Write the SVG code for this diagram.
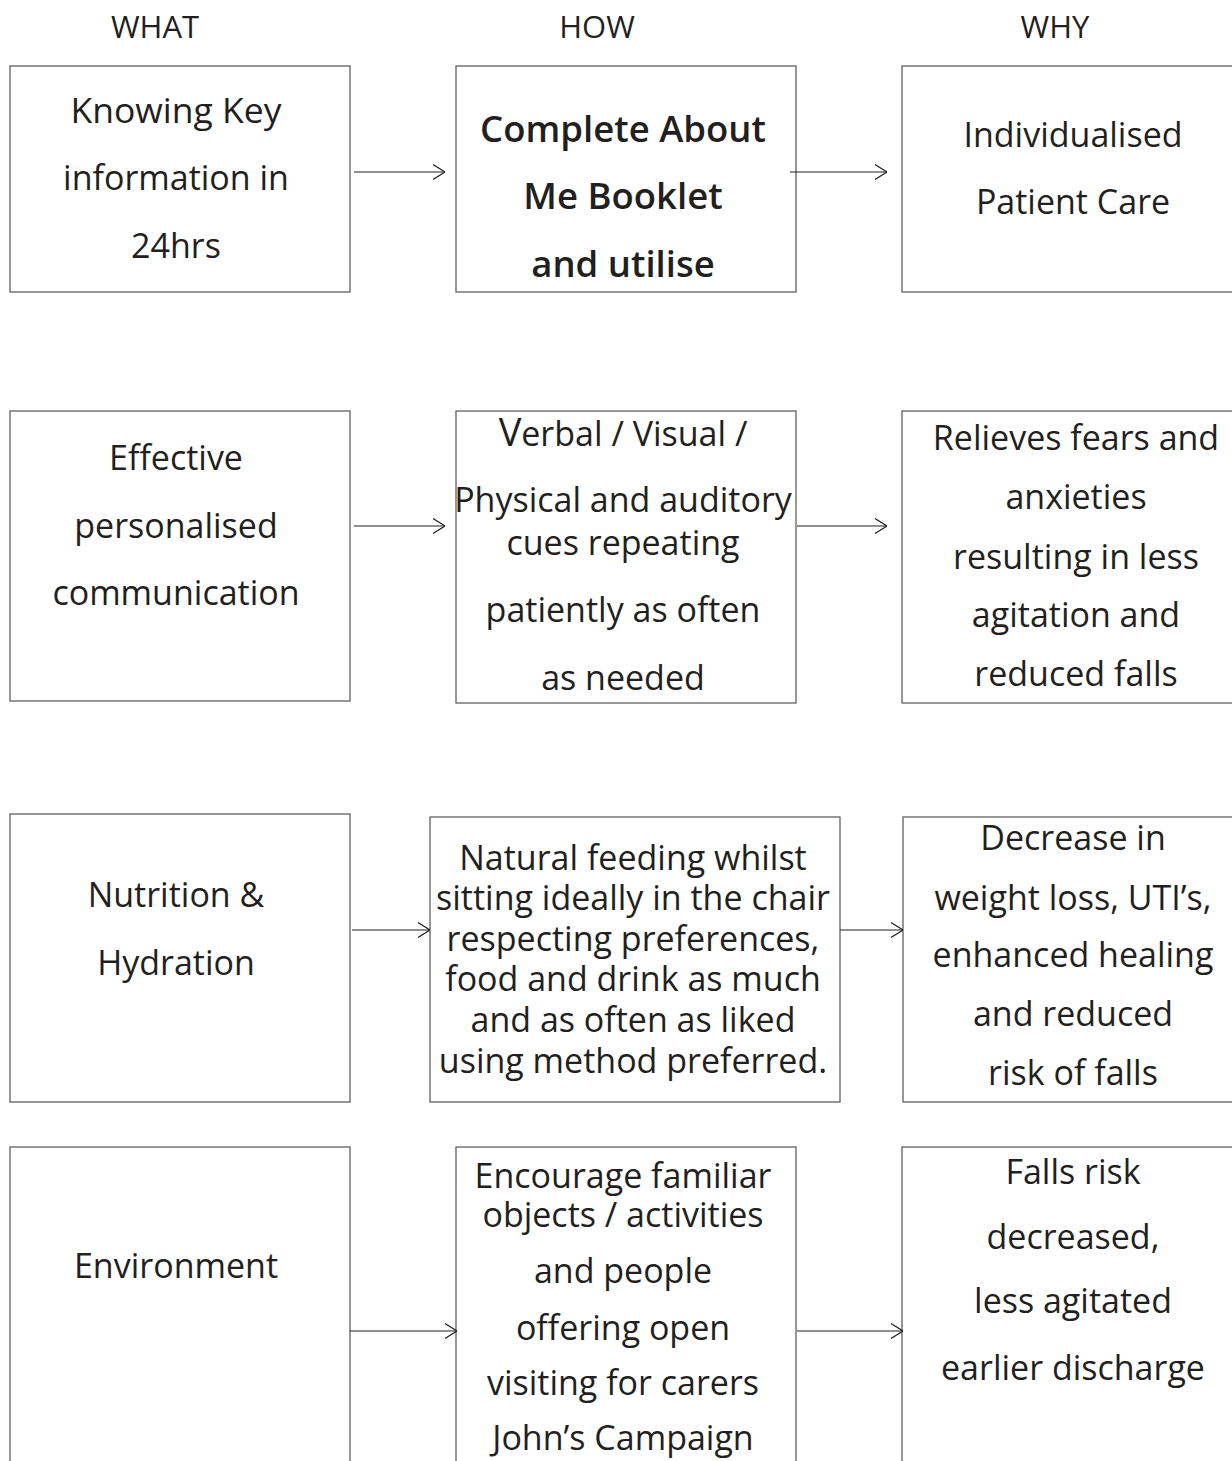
<svg xmlns="http://www.w3.org/2000/svg" width="1232" height="1461" viewBox="0 0 1232 1461">
<style>
  text { font-family: "Open Sans", "Noto Sans", sans-serif; fill: #231f20; text-anchor: middle; }
  .hd { font-size: 31px; }
  .t { font-size: 34px; }
  .k { font-size: 35.5px; }
  .s { font-size: 34px; }
  .b { font-size: 36.5px; font-weight: 600; }
  .box { fill: #ffffff; stroke: #606060; stroke-width: 1.3; }
  .conn line { stroke: #231f20; stroke-width: 1.2; marker-end: url(#arr); }
</style>
<defs>
  <marker id="arr" viewBox="0 0 12 16" refX="12" refY="8" markerWidth="12" markerHeight="16" markerUnits="userSpaceOnUse" orient="auto">
    <polyline points="0,0.5 12,8 0,15.5" fill="none" stroke="#231f20" stroke-width="1.2"/>
  </marker>
</defs>
<rect width="1232" height="1461" fill="#ffffff"/>
<g id="headers">
  <text class="hd" x="155" y="38">WHAT</text>
  <text class="hd" x="597" y="38">HOW</text>
  <text class="hd" x="1055" y="38">WHY</text>
</g>
<g id="what1"><rect class="box" x="10" y="66" width="340" height="226"/>
  <text class="k" x="176" y="123">Knowing Key</text>
  <text class="t" x="176" y="190">information in</text>
  <text class="t" x="176" y="258">24hrs</text></g>
<g id="how1"><rect class="box" x="456" y="66" width="340" height="226"/>
  <text class="b" x="623" y="142">Complete About</text>
  <text class="b" x="623" y="209">Me Booklet</text>
  <text class="b" x="623" y="277">and utilise</text></g>
<g id="why1"><rect class="box" x="902" y="66" width="340" height="226"/>
  <text class="t" x="1073" y="147">Individualised</text>
  <text class="t" x="1073" y="214">Patient Care</text></g>

<g id="what2"><rect class="box" x="10" y="411" width="340" height="290"/>
  <text class="t" x="176" y="470">Effective</text>
  <text class="t" x="176" y="538">personalised</text>
  <text class="t" x="176" y="605">communication</text></g>
<g id="how2"><rect class="box" x="456" y="411" width="340" height="292"/>
  <text class="t" x="623" y="446"><tspan font-size="38">V</tspan>erbal / Visual /</text>
  <text class="t" x="623" y="512">Physical and auditory</text>
  <text class="t" x="623" y="555">cues repeating</text>
  <text class="t" x="623" y="622">patiently as often</text>
  <text class="t" x="623" y="690">as needed</text></g>
<g id="why2"><rect class="box" x="902" y="411" width="340" height="292"/>
  <text class="t" x="1076" y="450">Relieves fears and</text>
  <text class="t" x="1076" y="509">anxieties</text>
  <text class="t" x="1076" y="569">resulting in less</text>
  <text class="t" x="1076" y="627">agitation and</text>
  <text class="t" x="1076" y="686">reduced falls</text></g>

<g id="what3"><rect class="box" x="10" y="814" width="340" height="288"/>
  <text class="t" x="176" y="907">Nutrition &amp;</text>
  <text class="t" x="176" y="975">Hydration</text></g>
<g id="how3"><rect class="box" x="430" y="817" width="410" height="285"/>
  <text class="s" x="633" y="870">Natural feeding whilst</text>
  <text class="s" x="633" y="910">sitting ideally in the chair</text>
  <text class="s" x="633" y="951">respecting preferences,</text>
  <text class="s" x="633" y="991">food and drink as much</text>
  <text class="s" x="633" y="1032">and as often as liked</text>
  <text class="s" x="633" y="1073">using method preferred.</text></g>
<g id="why3"><rect class="box" x="903" y="817" width="340" height="285"/>
  <text class="t" x="1073" y="850">Decrease in</text>
  <text class="t" x="1073" y="910">weight loss, UTI’s,</text>
  <text class="t" x="1073" y="967">enhanced healing</text>
  <text class="t" x="1073" y="1026">and reduced</text>
  <text class="t" x="1073" y="1085">risk of falls</text></g>

<g id="what4"><rect class="box" x="10" y="1147" width="340" height="340"/>
  <text class="t" x="176" y="1278">Environment</text></g>
<g id="how4"><rect class="box" x="456" y="1147" width="340" height="340"/>
  <text class="t" x="623" y="1188">Encourage familiar</text>
  <text class="t" x="623" y="1227">objects / activities</text>
  <text class="t" x="623" y="1283">and people</text>
  <text class="t" x="623" y="1340">offering open</text>
  <text class="t" x="623" y="1395">visiting for carers</text>
  <text class="t" x="623" y="1450">John’s Campaign</text></g>
<g id="why4"><rect class="box" x="902" y="1147" width="340" height="340"/>
  <text class="t" x="1073" y="1184">Falls risk</text>
  <text class="t" x="1073" y="1249">decreased,</text>
  <text class="t" x="1073" y="1313">less agitated</text>
  <text class="t" x="1073" y="1380">earlier discharge</text></g>

<g id="connectors" class="conn">
  <line x1="354" y1="172" x2="445" y2="172"/>
  <line x1="790" y1="172" x2="887" y2="172"/>
  <line x1="354" y1="526" x2="445" y2="526"/>
  <line x1="797" y1="526" x2="887" y2="526"/>
  <line x1="352" y1="930" x2="430" y2="930"/>
  <line x1="840" y1="930" x2="903" y2="930"/>
  <line x1="350" y1="1331" x2="457" y2="1331"/>
  <line x1="797" y1="1331" x2="903" y2="1331"/>
</g>
</svg>
